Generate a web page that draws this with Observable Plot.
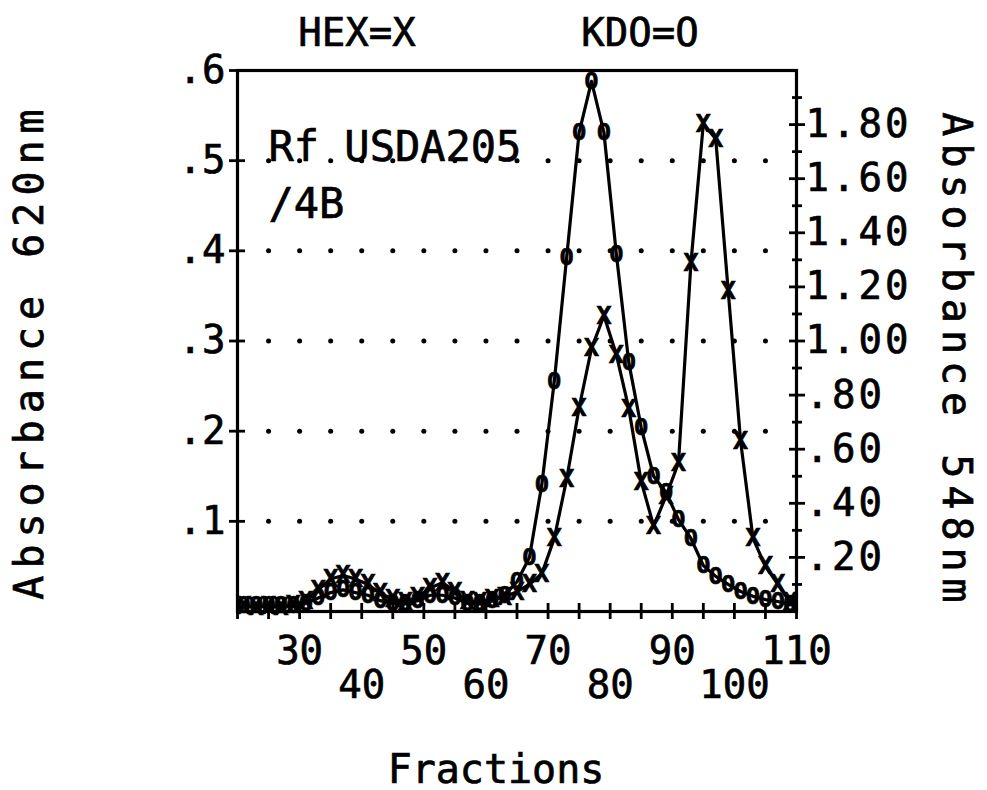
<!DOCTYPE html>
<html>
<head>
<meta charset="utf-8">
<script src="https://cdn.jsdelivr.net/npm/d3@7"></script>
<script src="https://cdn.jsdelivr.net/npm/@observablehq/plot@0.6"></script>
<style>
  html, body { margin: 0; padding: 0; background: #fff; }
  /* pen-plotter lettering is a little heavier than the regular face */
  #chart svg text { stroke: black; stroke-width: 0.7px; }
</style>
</head>
<body>
<div id="chart"></div>
<script>
// Column fractions (every other tube was assayed)
const fractions = [21, 23, 25, 27, 29, 31, 33, 35, 37, 39, 41, 43, 45, 47, 49,
  51, 53, 55, 57, 59, 61, 63, 65, 67, 69, 71, 73, 75, 77, 79, 81, 83, 85, 87, 89,
  91, 93, 95, 97, 99, 101, 103, 105, 107, 109];

// Hexose assay, absorbance at 620 nm (left axis, X markers)
const hex620 = [0.006, 0.005, 0.006, 0.005, 0.007, 0.012, 0.024, 0.036, 0.040, 0.036,
  0.030, 0.020, 0.014, 0.010, 0.016, 0.026, 0.032, 0.022, 0.012, 0.010,
  0.014, 0.016, 0.022, 0.030, 0.042, 0.081, 0.147, 0.226, 0.292, 0.328,
  0.285, 0.225, 0.144, 0.095, 0.128, 0.165, 0.386, 0.541, 0.524, 0.356,
  0.189, 0.081, 0.050, 0.030, 0.010];

// KDO assay, absorbance at 548 nm (right axis, O markers)
const kdo548 = [0.02, 0.02, 0.02, 0.02, 0.02, 0.03, 0.05, 0.07, 0.08, 0.07,
  0.06, 0.04, 0.03, 0.03, 0.04, 0.06, 0.06, 0.05, 0.03, 0.03,
  0.04, 0.06, 0.11, 0.20, 0.47, 0.85, 1.31, 1.77, 1.96, 1.77,
  1.32, 0.92, 0.68, 0.50, 0.44, 0.34, 0.27, 0.17, 0.13, 0.10,
  0.074, 0.056, 0.044, 0.037, 0.025];

// Axis extents and ticks
const xDomain = [20, 110];
const leftMax = 0.6;
const rightMax = 2.0;
const xTicks = [20, 25, 30, 35, 40, 45, 50, 55, 60, 65, 70, 75, 80, 85, 90, 95, 100, 105, 110];
const xLabelsUpper = [30, 50, 70, 90, 110];
const xLabelsLower = [40, 60, 80, 100];
const leftTicks = [0.1, 0.2, 0.3, 0.4, 0.5, 0.6];
const rightMajor = [0.2, 0.4, 0.6, 0.8, 1.0, 1.2, 1.4, 1.6, 1.8];
const rightMinor = [0.1, 0.3, 0.5, 0.7, 0.9, 1.1, 1.3, 1.5, 1.7, 1.9];
const gridLevels = [0.1, 0.2, 0.3, 0.4, 0.5];
const gridFractions = [25, 30, 35, 40, 45, 50, 55, 60, 65, 70, 75, 80, 85, 90, 95, 100, 105];

const titleHex = "HEX=X";
const titleKdo = "KDO=O";
const sampleLine1 = "Rf USDA205";
const sampleLine2 = "/4B";
const leftTitle = "Absorbance 620nm";
const rightTitle = "Absorbance 548nm";
const xTitle = "Fractions";

// The right axis shares the plot's y scale; its values are rescaled onto it
const k = leftMax / rightMax;

const rows = fractions.map((f, i) => ({fraction: f, hex: hex620[i], kdo: kdo548[i] * k}));
const gridDots = gridLevels.flatMap(level => gridFractions.map(f => ({fraction: f, level})));

const fmtLeft = d => d.toFixed(1).replace(/^0/, "");
const fmtRight = d => (d / k).toFixed(2).replace(/^0/, "");

const mono = "'DejaVu Sans Mono', monospace";

const chart = Plot.plot({
  width: 987,
  height: 790,
  marginLeft: 237,
  marginRight: 191,
  marginTop: 70,
  marginBottom: 179,
  x: {domain: xDomain},
  y: {domain: [0, leftMax]},
  style: {fontFamily: mono, fontSize: "39px", color: "black", background: "white"},
  marks: [
    // dotted reference lines
    Plot.dot(gridDots, {x: "fraction", y: "level", r: 2.5, fill: "black", stroke: null}),

    // curves
    Plot.line(rows, {x: "fraction", y: "hex", stroke: "black", strokeWidth: 3.2}),
    Plot.line(rows, {x: "fraction", y: "kdo", stroke: "black", strokeWidth: 3.2}),
    Plot.text(rows, {x: "fraction", y: "hex", text: () => "X", fontSize: 25, fontWeight: "bold", lineAnchor: "middle"}),
    Plot.text(rows, {x: "fraction", y: "kdo", text: () => "O", fontSize: 23, fontWeight: "bold", lineAnchor: "middle"}),

    Plot.frame({stroke: "black", strokeWidth: 3.2}),

    // left axis: crossing ticks and labels
    Plot.axisY({anchor: "left", ticks: leftTicks, tickSize: 16, dx: 8, strokeWidth: 2.8, fill: "none", label: null}),
    Plot.axisY({anchor: "left", ticks: leftTicks, tickSize: 0, tickPadding: 12, tickFormat: fmtLeft, label: null}),

    // right axis (548 nm)
    Plot.axisY({anchor: "right", ticks: rightMajor.map(v => v * k), tickSize: 16, dx: -8, strokeWidth: 2.8, fill: "none", label: null}),
    Plot.axisY({anchor: "right", ticks: rightMinor.map(v => v * k), tickSize: 10, dx: -5, strokeWidth: 2.8, fill: "none", label: null}),
    Plot.axisY({anchor: "right", ticks: rightMajor.map(v => v * k), tickSize: 0, tickPadding: 9, tickFormat: fmtRight, label: null}),

    // bottom axis with staggered labels
    Plot.axisX({anchor: "bottom", ticks: xTicks, tickSize: 16, dy: -8, strokeWidth: 2.8, fill: "none", label: null}),
    Plot.axisX({anchor: "bottom", ticks: xLabelsUpper, tickSize: 0, tickPadding: 25, tickFormat: d => String(d), label: null}),
    Plot.axisX({anchor: "bottom", ticks: xLabelsLower, tickSize: 0, tickPadding: 59, tickFormat: d => String(d), label: null}),

    // titles and annotations
    Plot.text([titleHex], {frameAnchor: "top", dx: -160, dy: -25, lineAnchor: "bottom", textAnchor: "middle"}),
    Plot.text([titleKdo], {frameAnchor: "top", dx: 123, dy: -25, lineAnchor: "bottom", textAnchor: "middle"}),
    Plot.text([sampleLine1], {frameAnchor: "top-left", dx: 31, dy: 90, lineAnchor: "bottom", textAnchor: "start", fontSize: 42}),
    Plot.text([sampleLine2], {frameAnchor: "top-left", dx: 31, dy: 147, lineAnchor: "bottom", textAnchor: "start", fontSize: 42}),
    Plot.text([leftTitle], {frameAnchor: "left", dx: -207, dy: 10, rotate: -90, textAnchor: "middle", lineAnchor: "middle", fontSize: 40}),
    Plot.text([rightTitle], {frameAnchor: "right", dx: 159, dy: 20, rotate: 90, textAnchor: "middle", lineAnchor: "middle", fontSize: 40}),
    Plot.text([xTitle], {frameAnchor: "bottom", dx: -21, dy: 171, lineAnchor: "bottom", textAnchor: "middle", fontSize: 40})
  ]
});

// wider letter spacing on the vertical axis titles and the right-hand tick labels
d3.select(chart).selectAll("text")
  .filter(function () { return this.textContent === leftTitle || this.textContent === rightTitle; })
  .attr("letter-spacing", "7px");
d3.select(chart).selectAll("text")
  .filter(function () { return /^\d?\.\d\d$/.test(this.textContent); })
  .attr("letter-spacing", "3px");

document.getElementById("chart").appendChild(chart);
</script>
</body>
</html>
